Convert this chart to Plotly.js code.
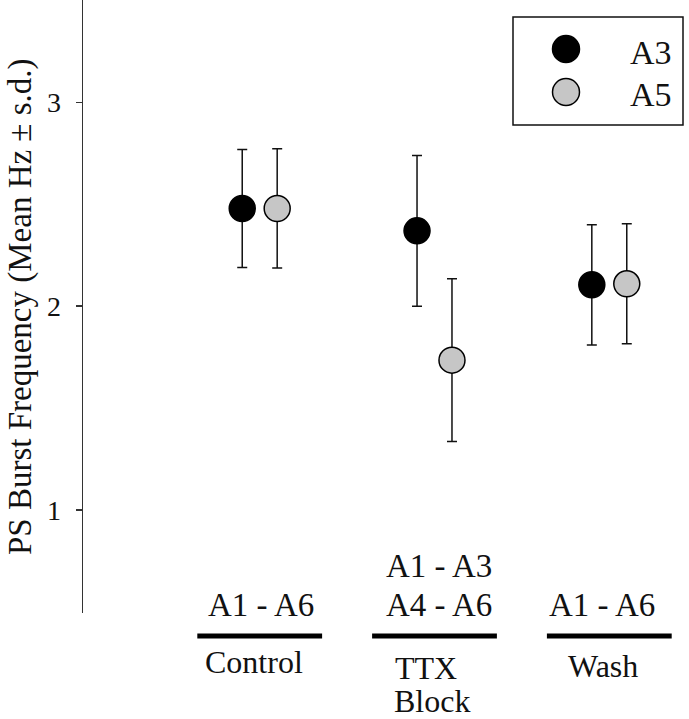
<!DOCTYPE html>
<html>
<head>
<meta charset="utf-8">
<script src="https://cdn.plot.ly/plotly-3.0.1.min.js"></script>
<style>
  html, body { margin: 0; padding: 0; background: #fff; }
  #chart { width: 689px; height: 719px; }
</style>
</head>
<body>
<div id="chart"></div>
<script>
// ---- data ----
const groups = ['Control', 'TTX Block', 'Wash'];
const groupPos = [1, 2, 3];
const seriesNames = ['A3', 'A5'];
const a3Mean = [2.48, 2.37, 2.105];
const a3Sd = [0.29, 0.37, 0.295];
const a5Mean = [2.48, 1.735, 2.11];
const a5Sd = [0.293, 0.40, 0.295];
const segmentLabels = [['A1 - A6'], ['A1 - A3', 'A4 - A6'], ['A1 - A6']];
const groupLabels = [['Control'], ['TTX', 'Block'], ['Wash']];
const yTickVals = [1, 2, 3];
const yTickText = ['1', '2', '3'];
const yTitle = 'PS Burst Frequency (Mean Hz \u00B1 s.d.)';

// ---- style ----
const FONT = 'Liberation Serif';
const OFFSET = 0.1;
const PLOT_BOTTOM = 613;  // px of plot bottom in page
const seriesStyle = [
  { fill: '#000000', offset: -OFFSET },
  { fill: '#c6c6c6', offset: OFFSET }
];
const means = [a3Mean, a5Mean];
const sds = [a3Sd, a5Sd];

const traces = seriesNames.map((name, i) => ({
  type: 'scatter',
  mode: 'markers',
  name: name,
  x: groupPos.map(g => g + seriesStyle[i].offset),
  y: means[i],
  error_y: { type: 'data', array: sds[i], visible: true, color: '#111', thickness: 1.5, width: 5 },
  marker: { size: 26, color: seriesStyle[i].fill, line: { color: '#000', width: 1.5 } },
  showlegend: false,
  hovertemplate: name + ' %{y:.2f}<extra></extra>'
}));

// group labels under the plot
const segShift = [[1], [4, 4], [-7.5]];
const segY = [[605], [566, 605], [605]];
const grpShift = [[-6], [-9, -3], [-6]];
const grpY = [[662], [668, 701], [666]];
const annotations = [];
groupPos.forEach((g, gi) => {
  segmentLabels[gi].forEach((t, li) => {
    annotations.push({ xref: 'x', yref: 'paper', x: g, y: 0, xanchor: 'center', yanchor: 'middle',
      xshift: segShift[gi][li], yshift: PLOT_BOTTOM - segY[gi][li], text: t, showarrow: false,
      font: { family: FONT, size: 33, color: '#111' } });
  });
  groupLabels[gi].forEach((t, li) => {
    annotations.push({ xref: 'x', yref: 'paper', x: g, y: 0, xanchor: 'center', yanchor: 'middle',
      xshift: grpShift[gi][li], yshift: PLOT_BOTTOM - grpY[gi][li], text: t, showarrow: false,
      font: { family: FONT, size: 32, color: '#111' } });
  });
});

const shapes = groupPos.map(g => ({
  type: 'line', xref: 'x', yref: 'paper', x0: g - 0.357, x1: g + 0.357,
  y0: (PLOT_BOTTOM - 636) / PLOT_BOTTOM, y1: (PLOT_BOTTOM - 636) / PLOT_BOTTOM,
  line: { color: '#000', width: 5 }
}));

// legend (drawn as shapes + text so the symbols keep their real size)
const L = 83, W = 606;
const px = v => (v - L) / W;
const py = v => (PLOT_BOTTOM - v) / PLOT_BOTTOM;
shapes.push({ type: 'rect', xref: 'paper', yref: 'paper', x0: px(513), x1: px(683), y0: py(125), y1: py(17),
  line: { color: '#111', width: 1.5 }, fillcolor: 'rgba(255,255,255,1)' });
const legY = [49, 92];
const legTextY = [52, 95];
seriesNames.forEach((name, i) => {
  shapes.push({ type: 'circle', xref: 'paper', yref: 'paper', xsizemode: 'pixel', ysizemode: 'pixel',
    xanchor: px(566), yanchor: py(legY[i]), x0: -13.5, x1: 13.5, y0: -13.5, y1: 13.5,
    fillcolor: seriesStyle[i].fill, line: { color: '#000', width: 1.5 } });
  annotations.push({ xref: 'paper', yref: 'paper', x: px(650.5), y: py(legTextY[i]), xanchor: 'center', yanchor: 'middle',
    text: name, showarrow: false, font: { family: FONT, size: 34, color: '#111' } });
});

// y-axis title placed at a fixed pixel position
annotations.push({ xref: 'paper', yref: 'paper', x: px(20), y: py(307), xanchor: 'center', yanchor: 'middle',
  textangle: -90, text: yTitle, showarrow: false, font: { family: FONT, size: 33, color: '#111' } });

const layout = {
  width: 689, height: 719,
  margin: { l: 83, r: 0, t: 0, b: 719 - PLOT_BOTTOM, pad: 0 },
  paper_bgcolor: '#fff', plot_bgcolor: '#fff',
  showlegend: false,
  font: { family: FONT },
  xaxis: { range: [-0.011, 3.456], visible: false, fixedrange: true, showgrid: false, zeroline: false },
  yaxis: {
    range: [0.493, 3.504], tickvals: yTickVals, ticktext: yTickText,
    showline: true, linecolor: '#333', linewidth: 1.5,
    ticks: 'outside', ticklen: 6, tickwidth: 1.5, tickcolor: '#333',
    showgrid: false, zeroline: false, automargin: false, ticklabelstandoff: 9,
    tickfont: { family: FONT, size: 28, color: '#111' }
  },
  shapes: shapes,
  annotations: annotations
};

Plotly.newPlot('chart', traces, layout, { displayModeBar: false, staticPlot: true });
</script>
</body>
</html>
